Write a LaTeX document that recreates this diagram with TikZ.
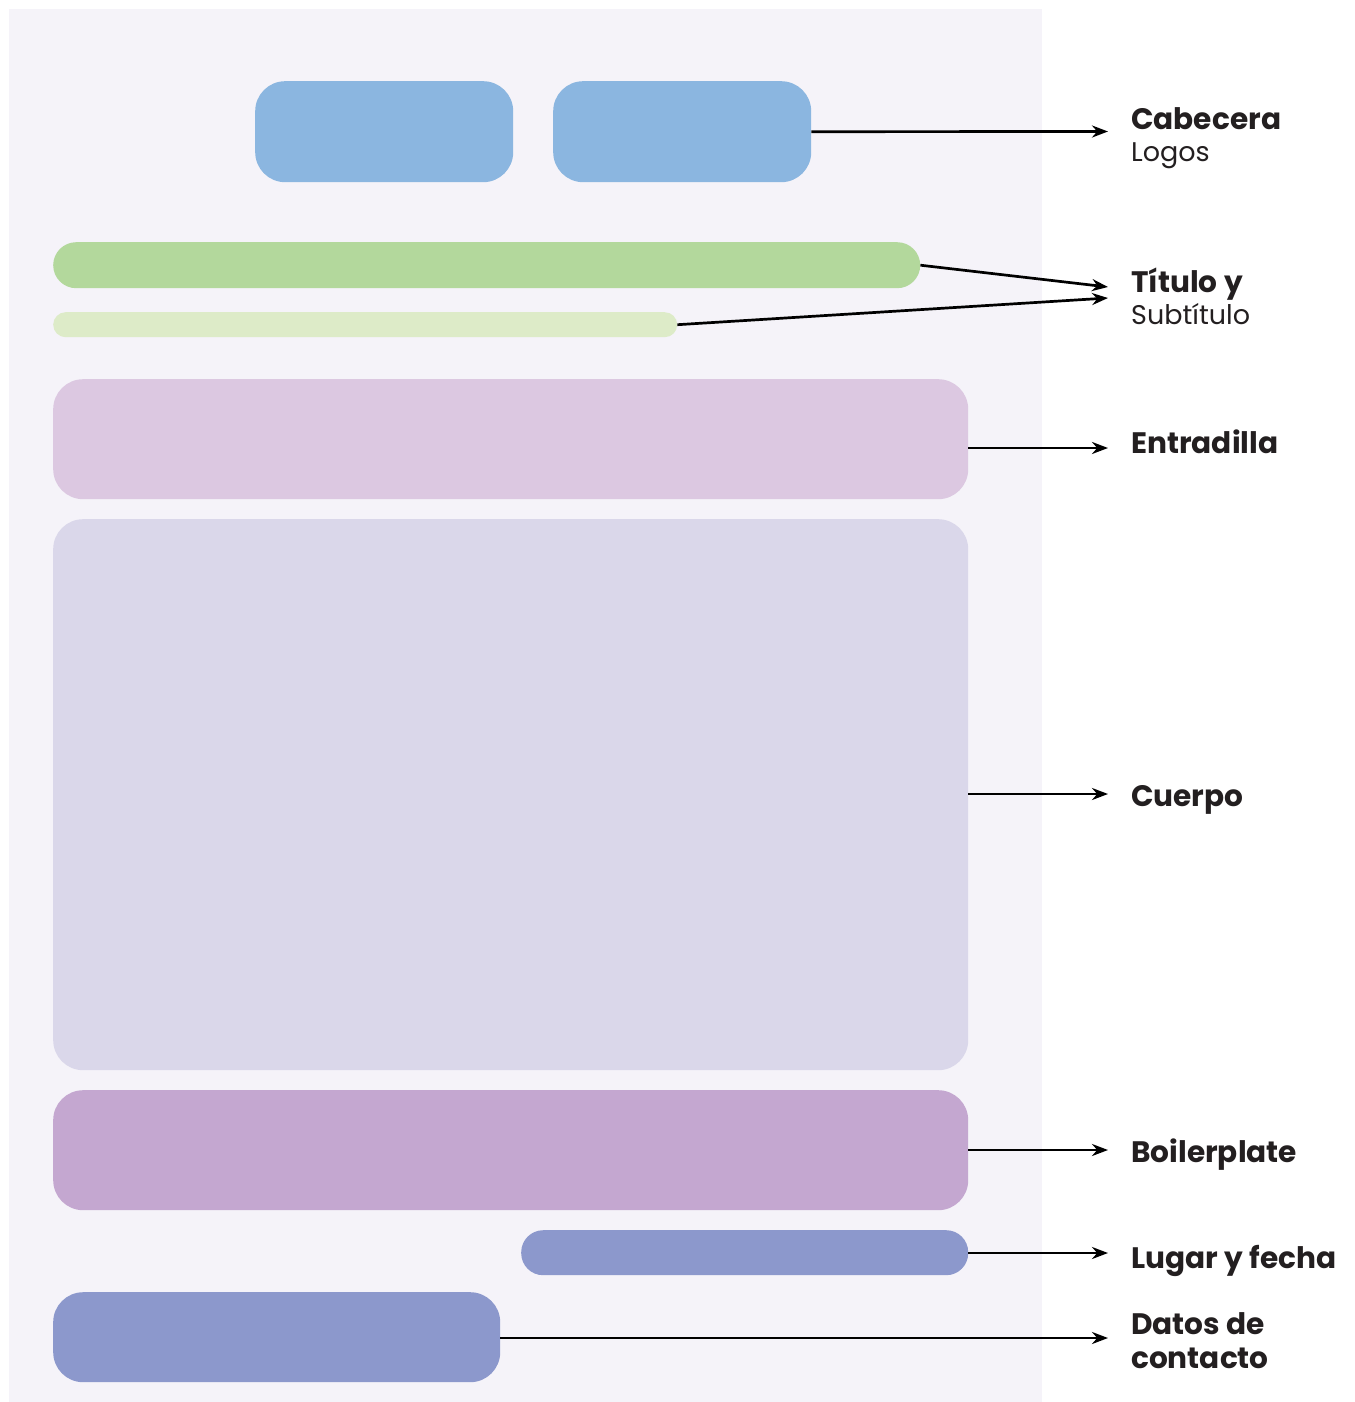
\documentclass[tikz,border=0pt]{standalone}
\usepackage{fontspec}
\setmainfont{Poppins}
\usetikzlibrary{arrows.meta}
\definecolor{panelbg}{HTML}{F5F3F9}
\definecolor{logoblue}{HTML}{8BB6E0}
\definecolor{titlegreen}{HTML}{B3D89C}
\definecolor{subgreen}{HTML}{DDEBC8}
\definecolor{leadlilac}{HTML}{DCC8E1}
\definecolor{bodylav}{HTML}{DAD7EA}
\definecolor{boilerpurple}{HTML}{C4A7D0}
\definecolor{contactblue}{HTML}{8C98CC}
\definecolor{labelink}{HTML}{231F20}
\tikzset{
  block/.style={rectangle, inner sep=0pt, anchor=north west, rounded corners=#1},
  block/.default=30pt,
  pointer/.style={-{Stealth[length=16pt,width=12pt]}, line width=2.7pt, black},
  headline/.style={anchor=base west, inner sep=0pt, font=\fontsize{29.6}{33}\selectfont\bfseries, text=labelink},
  subline/.style={anchor=base west, inner sep=0pt, font=\fontsize{27}{33}\selectfont, text=labelink},
}
\begin{document}
\begin{tikzpicture}[x=1pt,y=-1pt]
  \useasboundingbox (0,0) rectangle (1354,1402);
  % page panel
  \fill[panelbg] (9,9) rectangle (1042,1402);

  % layout blocks
  \node[block, fill=logoblue, minimum width=258pt, minimum height=101pt] (logoA) at (255,81) {};
  \node[block, fill=logoblue, minimum width=258pt, minimum height=101pt] (logoB) at (553,81) {};
  \node[block=23pt, fill=titlegreen, minimum width=867pt, minimum height=46pt] (title) at (53,242) {};
  \node[block=12.5pt, fill=subgreen, minimum width=624pt, minimum height=25pt] (subtitle) at (53,312) {};
  \node[block, fill=leadlilac, minimum width=915pt, minimum height=120pt] (lead) at (53,379) {};
  \node[block, fill=bodylav, minimum width=915pt, minimum height=551pt] (body) at (53,519) {};
  \node[block, fill=boilerpurple, minimum width=915pt, minimum height=120pt] (boiler) at (53,1090) {};
  \node[block=22pt, fill=contactblue, minimum width=447pt, minimum height=45pt] (place) at (521,1230) {};
  \node[block, fill=contactblue, minimum width=447pt, minimum height=90pt] (contact) at (53,1292) {};

  % labels
  \node[headline] (lblHead) at (1131,129) {Cabecera};
  \node[subline] (lblLogos) at (1131,161) {Logos};
  \node[headline] (lblTitle) at (1131,292) {Título y};
  \node[subline] (lblSub) at (1131,324) {Subtítulo};
  \node[headline] (lblLead) at (1131,453) {Entradilla};
  \node[headline] (lblBody) at (1131,806) {Cuerpo};
  \node[headline] (lblBoiler) at (1131,1162) {Boilerplate};
  \node[headline] (lblPlace) at (1131,1268) {Lugar y fecha};
  \node[headline] (lblContact) at (1131,1334) {Datos de};
  \node[headline] (lblContact2) at (1131,1368) {contacto};

  % arrow targets
  \coordinate (tHead) at (1108,131.5);
  \coordinate (tTitle) at (1108,287);
  \coordinate (tSub) at (1108,298);
  \coordinate (tLead) at (1108,448);
  \coordinate (tBody) at (1108,794);
  \coordinate (tBoiler) at (1108,1150);
  \coordinate (tPlace) at (1108,1253);
  \coordinate (tContact) at (1108,1338);

  % connectors
  \draw[pointer] (logoB.east) -- (tHead);
  \draw[pointer] (title.east) -- (tTitle);
  \draw[pointer] (subtitle.east) -- (tSub);
  \draw[pointer] (lead.east |- tLead) -- (tLead);
  \draw[pointer] (body.east |- tBody) -- (tBody);
  \draw[pointer] (boiler.east |- tBoiler) -- (tBoiler);
  \draw[pointer] (place.east |- tPlace) -- (tPlace);
  \draw[pointer] (contact.east |- tContact) -- (tContact);
\end{tikzpicture}
\end{document}
